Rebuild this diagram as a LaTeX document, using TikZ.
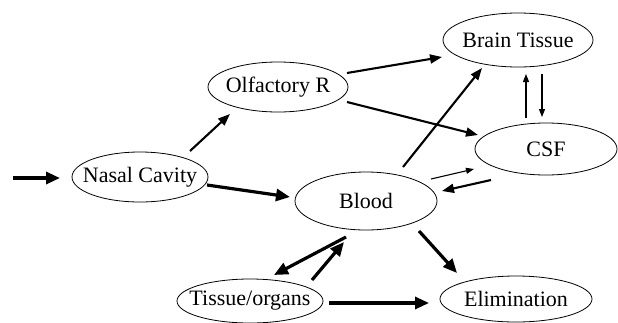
\documentclass[tikz,border=0pt]{standalone}
\usepackage{fontspec}
\setmainfont{Liberation Serif}
\usetikzlibrary{shapes.geometric,arrows.meta}
\begin{document}
\begin{tikzpicture}[x=1pt,y=-1pt,
  box/.style={ellipse,draw,line width=0.8pt,inner ysep=0pt,inner xsep=-30pt,font=\fontsize{22}{26}\selectfont},
  thickarr/.style={line width=3.2pt,-{Triangle[length=14pt,width=12pt]}},
  medarr/.style={line width=2.1pt,-{Triangle[length=12pt,width=9pt]}},
  thinarr/.style={line width=1.1pt,-{Triangle[length=8pt,width=6pt]}}]
\useasboundingbox (0,0) rectangle (618,322);
\node[box,minimum width=136pt,minimum height=50pt] (nasal) at (140,177) {Nasal Cavity};
\node[box,minimum width=140pt,minimum height=50pt] (olf) at (278,87) {Olfactory R};
\node[box,minimum width=150pt,minimum height=54pt] (brain) at (518,40) {Brain Tissue};
\node[box,minimum width=142pt,minimum height=52pt] (csf) at (546,149) {CSF};
\node[box,minimum width=142pt,minimum height=58pt] (blood) at (366,201) {Blood};
\node[box,minimum width=146pt,minimum height=44pt] (tissue) at (250,301) {Tissue/organs};
\node[box,minimum width=152pt,minimum height=46pt] (elim) at (516,299) {Elimination};
\coordinate (input) at (13,178);
% arrows
\draw[thickarr] (input) -- ([shift={(-80,1)}]nasal.center);
\draw[medarr] ([shift={(50,-26)}]nasal.center) -- ([shift={(-48,27)}]olf.center);
\draw[thickarr] ([shift={(67,8)}]nasal.center) -- ([shift={(-76,-4)}]blood.center);
\draw[medarr] ([shift={(69,-14)}]olf.center) -- ([shift={(-76,17)}]brain.center);
\draw[medarr] ([shift={(69,15)}]olf.center) -- ([shift={(-68,-14)}]csf.center);
\draw[medarr] ([shift={(37,-34)}]blood.center) -- ([shift={(-36,28)}]brain.center);
\draw[thinarr] ([shift={(-20,-31)}]csf.center) -- ([shift={(8,34)}]brain.center);
\draw[thinarr] ([shift={(24,34)}]brain.center) -- ([shift={(-4,-32)}]csf.center);
\draw[thinarr] ([shift={(65,-22)}]blood.center) -- ([shift={(-72,20)}]csf.center);
\draw[medarr] ([shift={(-55,31)}]csf.center) -- ([shift={(76,-10)}]blood.center);
\draw[thickarr] ([shift={(-20,36)}]blood.center) -- ([shift={(24,-26)}]tissue.center);
\draw[thickarr] ([shift={(62,-21)}]tissue.center) -- ([shift={(-22,41)}]blood.center);
\draw[thickarr] ([shift={(53,30)}]blood.center) -- ([shift={(-59,-26)}]elim.center);
\draw[thickarr] ([shift={(79,2)}]tissue.center) -- ([shift={(-87,4)}]elim.center);
\end{tikzpicture}
\end{document}
